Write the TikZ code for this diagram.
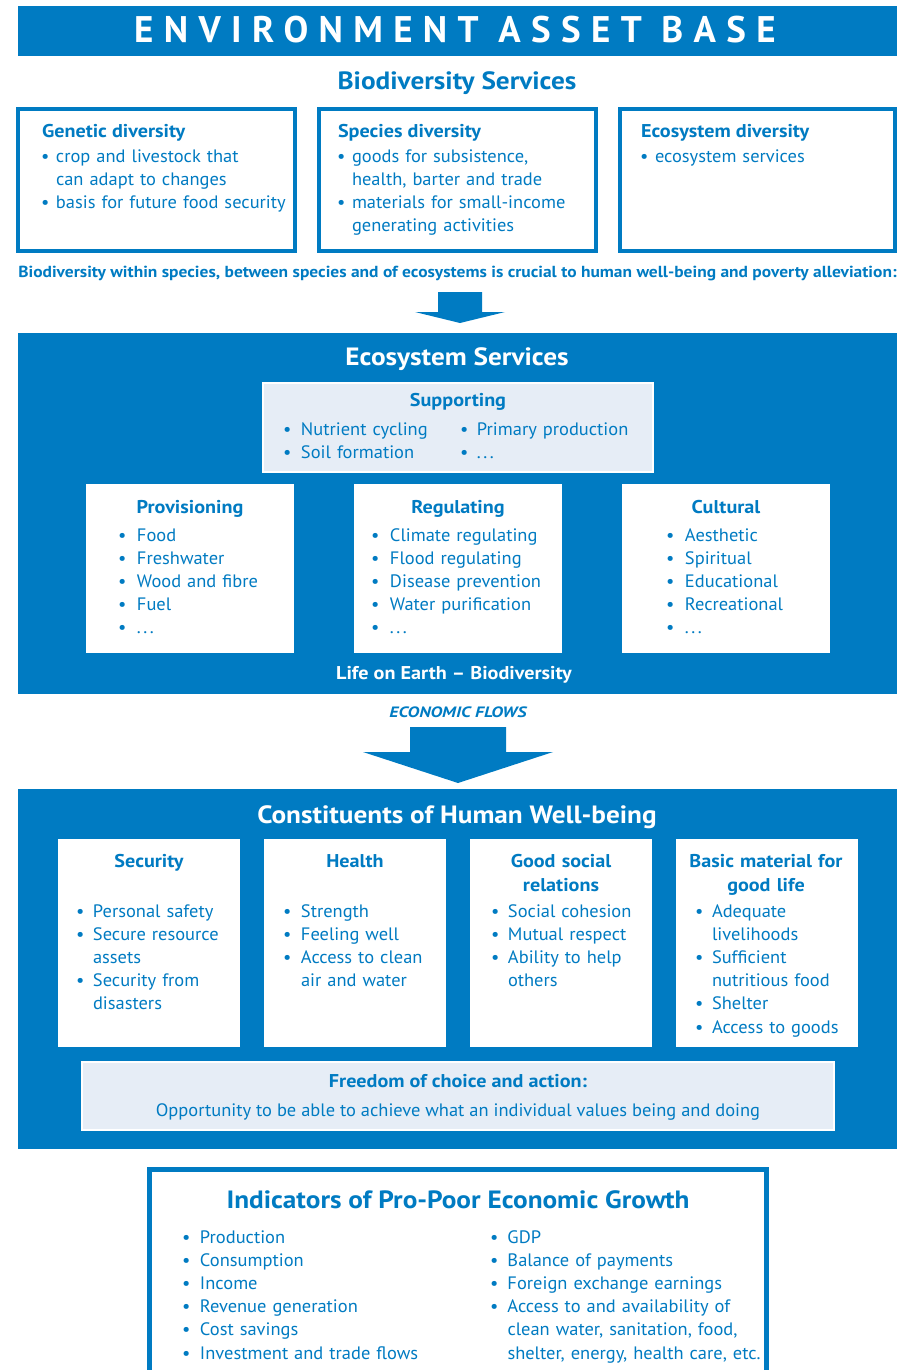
\documentclass[tikz,border=0pt]{standalone}
\usepackage{fontspec}
\setmainfont{PT Sans}[UprightFeatures={FakeStretch=1.025}, BoldFeatures={FakeStretch=1.09}, BoldItalicFeatures={FakeStretch=1.2}]
\newfontfamily\bannerfont{PT Sans}[LetterSpace=28]
\usetikzlibrary{positioning}
\definecolor{unepblue}{HTML}{007BC2}
\definecolor{paleblue}{HTML}{E6EDF6}
\newcommand{\bodyfont}{\fontsize{18}{23.2}\selectfont}
\tikzstyle{every node}=[inner sep=0pt, outer sep=0pt, text=unepblue, font=\bodyfont]
\tikzstyle{band}=[fill=unepblue, anchor=north west]
\tikzstyle{frame}=[draw=unepblue, line width=4.5pt, fill=white, anchor=north west]
\tikzstyle{card}=[fill=white, anchor=north west]
\tikzstyle{pale}=[fill=paleblue, draw=white, line width=2pt, anchor=north west]
\tikzstyle{banner}=[anchor=base, text=white, font=\bannerfont\bfseries\fontsize{37}{40}\selectfont]
\tikzstyle{head}=[anchor=base, font=\bfseries\fontsize{25}{30}\selectfont]
\tikzstyle{sub}=[anchor=base, font=\bfseries\fontsize{18.5}{24}\selectfont]
\tikzstyle{list}=[anchor=base west, align=left, text width=300pt]
\newcommand{\bl}[1][19pt]{\makebox[#1][l]{\textbullet}}
\newcommand{\cont}[1][19pt]{\hspace*{#1}}
\newcommand{\more}{.\kern2.5pt.\kern2.5pt.}

\begin{document}
\begin{tikzpicture}[x=1pt, y=-1pt]
  \useasboundingbox (0,0) rectangle (905,1370);
  \clip (0,0) rectangle (905,1370);

  % environment asset base
  \node[band, minimum width=879, minimum height=50] (eab) at (18,6) {};
  \node[banner] (eabt) at (455,43) {ENVIRONMENT ASSET BASE};
  \node[head] (bds) at (457,90) {Biodiversity Services};

  \node[frame, minimum width=277, minimum height=142] (gen) at (18,109) {};
  \node[frame, minimum width=277, minimum height=142] (spec) at (319,109) {};
  \node[frame, minimum width=275, minimum height=142] (ecod) at (620,109) {};
  \node[sub, anchor=base west] (gent) at (42,138) {Genetic diversity};
  \node[list] (genl) at (41,162) {\bl[15pt]crop and livestock that\\
    \cont[15pt]can adapt to changes\\ \bl[15pt]basis for future food security};
  \node[sub, anchor=base west] (spect) at (338,138) {Species diversity};
  \node[list] (specl) at (337,162) {\bl[15pt]goods for subsistence,\\
    \cont[15pt]health, barter and trade\\ \bl[15pt]materials for small-income\\
    \cont[15pt]generating activities};
  \node[sub, anchor=base west] (ecodt) at (641,138) {Ecosystem diversity};
  \node[list] (ecodl) at (640,162) {\bl[15pt]ecosystem services};

  \node[anchor=base, font=\bfseries\fontsize{16}{19}\selectfont] (bdnote) at (457.5,277)
    {Biodiversity within species, between species and of ecosystems is crucial to human well-being and poverty alleviation:};

  % small arrow
  \coordinate (tip1) at (460,323);
  \fill[unepblue] (tip1) -- ++(-45,-11) -- ++(23,0) -- ++(0,-20) -- ++(44,0)
    -- ++(0,20) -- ++(23,0) -- cycle;

  % ecosystem services
  \node[band, minimum width=879, minimum height=361] (esband) at (18,333) {};
  \node[head, text=white] (est) at (457,365) {Ecosystem Services};
  \node[pale, minimum width=390, minimum height=89] (supp) at (263,383) {};
  \node[sub] (suppt) at (458,406) {Supporting};
  \node[list] (suppa) at (283,435) {\bl[18pt]Nutrient cycling\\ \bl[18pt]Soil formation};
  \node[list] (suppb) at (460,435) {\bl[17pt]Primary production\\ \bl[17pt]\more};

  \node[card, minimum width=208, minimum height=169] (prov) at (86,484) {};
  \node[card, minimum width=208, minimum height=169] (regu) at (354,484) {};
  \node[card, minimum width=208, minimum height=169] (cult) at (622,484) {};
  \node[sub] (provt) at (190,513) {Provisioning};
  \node[sub] (regut) at (458,513) {Regulating};
  \node[sub] (cultt) at (726,513) {Cultural};
  \node[list] (provl) at (118,541) {\bl Food\\ \bl Freshwater\\ \bl Wood and fibre\\ \bl Fuel\\ \bl\more};
  \node[list] (regul) at (371,541) {\bl Climate regulating\\ \bl Flood regulating\\
    \bl Disease prevention\\ \bl Water purification\\ \bl\more};
  \node[list] (cultl) at (666,541) {\bl Aesthetic\\ \bl Spiritual\\ \bl Educational\\
    \bl Recreational\\ \bl\more};
  \node[sub, text=white] (loe) at (454,679) {Life on Earth -- Biodiversity};

  % economic flows
  \node[anchor=base, font=\bfseries\itshape\fontsize{15}{18}\selectfont] (ef) at (458,717) {ECONOMIC FLOWS};
  \coordinate (tip2) at (458,783);
  \fill[unepblue] (tip2) -- ++(-95,-31) -- ++(47,0) -- ++(0,-25) -- ++(96,0)
    -- ++(0,25) -- ++(47,0) -- cycle;

  % human well-being
  \node[band, minimum width=879, minimum height=360] (hwb) at (18,789) {};
  \node[head, text=white] (hwbt) at (457,823) {Constituents of Human Well-being};
  \node[card, minimum width=182, minimum height=208] (secu) at (58,839) {};
  \node[card, minimum width=182, minimum height=208] (heal) at (264,839) {};
  \node[card, minimum width=182, minimum height=208] (soci) at (470,839) {};
  \node[card, minimum width=182, minimum height=208] (basi) at (676,839) {};
  \node[sub] (secut) at (149,867) {Security};
  \node[sub] (healt) at (355,867) {Health};
  \node[sub, text width=170, align=center] (socit) at (561,867) {Good social\\ relations};
  \node[sub, text width=175, align=center] (basit) at (766,867) {Basic material for\\ good life};
  \node[list] (secul) at (76,917) {\bl[17pt]Personal safety\\ \bl[17pt]Secure resource\\
    \cont[17pt]assets\\ \bl[17pt]Security from\\ \cont[17pt]disasters};
  \node[list] (heall) at (283,917) {\bl[18pt]Strength\\ \bl[18pt]Feeling well\\
    \bl[18pt]Access to clean\\ \cont[18pt]air and water};
  \node[list] (socil) at (491,917) {\bl[17pt]Social cohesion\\ \bl[17pt]Mutual respect\\
    \bl[17pt]Ability to help\\ \cont[17pt]others};
  \node[list] (basil) at (695,917) {\bl[17pt]Adequate\\ \cont[17pt]livelihoods\\
    \bl[17pt]Sufficient\\ \cont[17pt]nutritious food\\ \bl[17pt]Shelter\\ \bl[17pt]Access to goods};
  \node[pale, minimum width=752, minimum height=68] (free) at (82,1062) {};
  \node[sub] (freet) at (458,1087) {Freedom of choice and action:};
  \node[anchor=base, font=\fontsize{18}{21}\selectfont] (freel) at (458,1116)
    {Opportunity to be able to achieve what an individual values being and doing};

  % indicators
  \node[frame, minimum width=617, minimum height=240] (ind) at (149.5,1169.5) {};
  \node[head] (indt) at (458,1208) {Indicators of Pro-Poor Economic Growth};
  \node[list] (inda) at (182,1243) {\bl[18pt]Production\\ \bl[18pt]Consumption\\
    \bl[18pt]Income\\ \bl[18pt]Revenue generation\\ \bl[18pt]Cost savings\\
    \bl[18pt]Investment and trade flows};
  \node[list] (indb) at (490,1243) {\bl[17.5pt]GDP\\ \bl[17.5pt]Balance of payments\\
    \bl[17.5pt]Foreign exchange earnings\\ \bl[17.5pt]Access to and availability of\\
    \cont[17.5pt]clean water, sanitation, food,\\ \cont[17.5pt]shelter, energy, health care, etc.};
\end{tikzpicture}
\end{document}
